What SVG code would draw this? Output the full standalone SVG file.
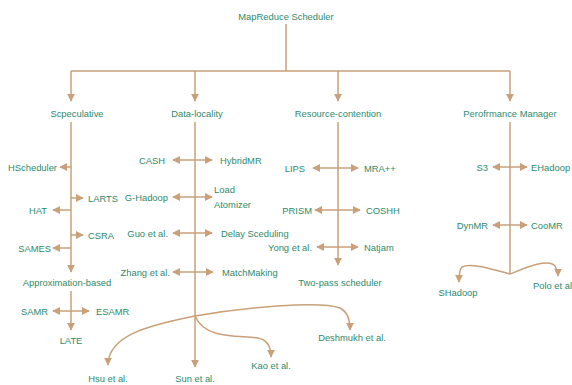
<svg xmlns="http://www.w3.org/2000/svg" width="572" height="385" viewBox="0 0 572 385">
<defs>
<marker id="ah" viewBox="0 0 10 10" refX="9" refY="5" markerWidth="8" markerHeight="8" markerUnits="userSpaceOnUse" orient="auto-start-reverse">
<path d="M0,0 L10,5 L0,10 z" fill="#c9a07a"/>
</marker>
<style>
.c{fill:none;stroke:#c9a07a;stroke-width:1.5}
.a{marker-end:url(#ah)}
.d{marker-start:url(#ah);marker-end:url(#ah)}
text{font-family:"Liberation Sans",Arial,sans-serif;font-size:9.4px;fill:#2f8a6c}
.m{text-anchor:middle}
.e{text-anchor:end}
</style>
</defs>
<rect width="572" height="385" fill="#ffffff"/>
<g id="connectors">
<path class="c" d="M286,24 V71 M71,71 H510"/>
<path class="c a" d="M71,71 V101"/>
<path class="c a" d="M195,71 V101"/>
<path class="c a" d="M338,71 V101"/>
<path class="c a" d="M510,71 V101"/>
<path class="c a" d="M71,122 V272"/>
<path class="c a" d="M71,167 H60"/>
<path class="c a" d="M71,198 H83"/>
<path class="c a" d="M71,210 H53"/>
<path class="c a" d="M71,235 H83"/>
<path class="c a" d="M71,248 H53"/>
<path class="c a" d="M71,291 V330"/>
<path class="c a" d="M71,311 H53"/>
<path class="c a" d="M71,311 H89"/>
<path class="c a" d="M195,122 V367"/>
<path class="c d" d="M173,160 H212"/>
<path class="c d" d="M173,197 H212"/>
<path class="c d" d="M173,233 H212"/>
<path class="c d" d="M173,272 H213"/>
<path class="c a" d="M195,316 C150,325 108,335 108,365"/>
<path class="c a" d="M195,316 C205,340 240,335 258,338 C268,340 271,348 271,357"/>
<path class="c a" d="M195,316 C240,308 320,300 340,308 C348,312 350,320 350,330"/>
<path class="c a" d="M338,122 V265"/>
<path class="c d" d="M313,168 H358"/>
<path class="c d" d="M315,210 H360"/>
<path class="c d" d="M317,247 H358"/>
<path class="c" d="M510,122 V274"/>
<path class="c d" d="M493,167 H527"/>
<path class="c d" d="M493,225 H527"/>
<path class="c a" d="M510,274 C495,270 470,262 462,267 C459,270 459,276 459,282"/>
<path class="c a" d="M510,274 C525,268 548,258 555,266 C557,270 558,273 558,276"/>
</g>
<g id="root"><text class="m" x="286" y="20">MapReduce Scheduler</text></g>
<g id="scpeculative"><text class="m" x="77" y="117">Scpeculative</text></g>
<g id="data-locality"><text class="m" x="197" y="117">Data-locality</text></g>
<g id="resource-contention"><text class="m" x="338" y="117">Resource-contention</text></g>
<g id="performance-manager"><text class="m" x="510" y="117">Perofrmance Manager</text></g>
<g id="hscheduler"><text class="e" x="57" y="171">HScheduler</text></g>
<g id="larts"><text x="88" y="202">LARTS</text></g>
<g id="hat"><text class="e" x="47" y="214">HAT</text></g>
<g id="csra"><text x="88" y="239">CSRA</text></g>
<g id="sames"><text class="e" x="51" y="252">SAMES</text></g>
<g id="approximation"><text class="m" x="67" y="286">Approximation-based</text></g>
<g id="samr"><text class="e" x="48" y="315">SAMR</text></g>
<g id="esamr"><text x="96" y="315">ESAMR</text></g>
<g id="late"><text class="m" x="71" y="344">LATE</text></g>
<g id="cash"><text class="e" x="165" y="164">CASH</text></g>
<g id="hybridmr"><text x="220" y="164">HybridMR</text></g>
<g id="g-hadoop"><text class="e" x="168" y="201">G-Hadoop</text></g>
<g id="load-atomizer"><text x="214" y="193">Load</text><text x="214" y="208">Atomizer</text></g>
<g id="guo"><text class="e" x="168" y="237">Guo et al.</text></g>
<g id="delay"><text x="221" y="237">Delay Sceduling</text></g>
<g id="zhang"><text class="e" x="170" y="276">Zhang et al.</text></g>
<g id="matchmaking"><text x="222" y="276">MatchMaking</text></g>
<g id="hsu"><text class="m" x="108" y="382">Hsu et al.</text></g>
<g id="sun"><text class="m" x="195" y="382">Sun et al.</text></g>
<g id="kao"><text class="m" x="271" y="369">Kao et al.</text></g>
<g id="deshmukh"><text class="m" x="352" y="341">Deshmukh et al.</text></g>
<g id="lips"><text class="e" x="305" y="172">LIPS</text></g>
<g id="mra"><text x="364" y="172">MRA++</text></g>
<g id="prism"><text class="e" x="312" y="214">PRISM</text></g>
<g id="coshh"><text x="366" y="214">COSHH</text></g>
<g id="yong"><text class="e" x="312" y="251">Yong et al.</text></g>
<g id="natjam"><text x="364" y="251">Natjam</text></g>
<g id="two-pass"><text class="m" x="340" y="286">Two-pass scheduler</text></g>
<g id="s3"><text class="e" x="488" y="171">S3</text></g>
<g id="ehadoop"><text x="531" y="171">EHadoop</text></g>
<g id="dynmr"><text class="e" x="488" y="229">DynMR</text></g>
<g id="coomr"><text x="531" y="229">CooMR</text></g>
<g id="shadoop"><text class="m" x="458" y="296">SHadoop</text></g>
<g id="polo"><text x="533" y="289">Polo et al.</text></g>
</svg>
